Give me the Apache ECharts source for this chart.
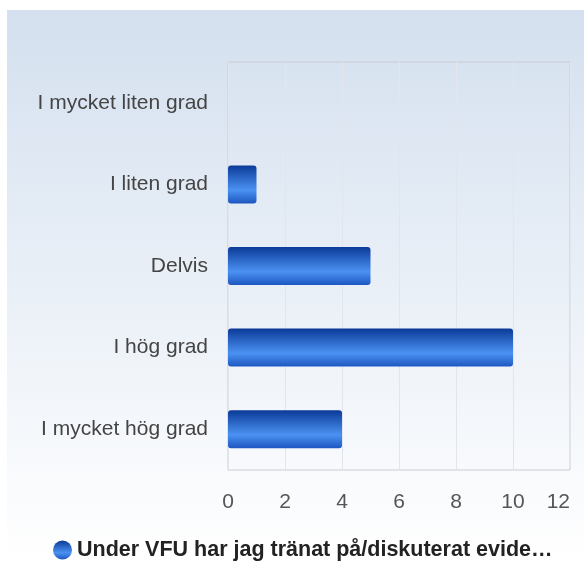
<!DOCTYPE html>
<html>
<head>
    <meta charset="UTF-8">
    <title>VFU bar chart</title>
    <script src="https://cdn.jsdelivr.net/npm/echarts@6/dist/echarts.min.js"></script>
</head>
<body style="margin: 0;overflow: hidden;background: #fff;">
<div id="main" style="width: 584px;height: 562px;"></div>
<script type="text/javascript">
    var categories = ['I mycket liten grad', 'I liten grad', 'Delvis', 'I hög grad', 'I mycket hög grad'];
    var values = [0, 1, 5, 10, 4];
    var seriesName = 'Under VFU har jag tränat på/diskuterat evide…';

    var barColor = new echarts.graphic.LinearGradient(0, 0, 0, 1, [
        {offset: 0, color: '#0b3a98'},
        {offset: 0.65, color: '#4b92f2'},
        {offset: 1, color: '#1d56c0'}
    ]);

    var chart = echarts.init(document.getElementById('main'));
    var option = {
        backgroundColor: '#fff',
        graphic: [{
            type: 'rect',
            left: 7,
            top: 10,
            z: -10,
            silent: true,
            shape: {width: 577, height: 552},
            style: {
                fill: new echarts.graphic.LinearGradient(0, 0, 0, 1, [
                    {offset: 0, color: '#d4e0ef'},
                    {offset: 1, color: '#ffffff'}
                ])
            }
        }],
        legend: {
            left: 53,
            top: 539,
            padding: 0,
            icon: 'circle',
            itemWidth: 19,
            itemHeight: 19,
            itemGap: 8,
            textStyle: {
                fontFamily: 'Liberation Sans, Arial',
                fontSize: 21.5,
                fontWeight: 'bold',
                color: '#222'
            },
            data: [seriesName]
        },
        grid: {
            left: 228,
            right: 14,
            top: 62,
            bottom: 92,
            containLabel: false,
            show: true,
            borderColor: '#c8ccd4',
            borderWidth: 1,
            backgroundColor: 'transparent'
        },
        xAxis: {
            type: 'value',
            min: 0,
            max: 12,
            interval: 2,
            axisLine: {show: false},
            axisTick: {show: false},
            splitLine: {lineStyle: {color: '#e2e6ec'}},
            axisLabel: {
                margin: 22,
                alignMaxLabel: 'right',
                fontFamily: 'Liberation Sans, Arial',
                fontSize: 21,
                color: '#555'
            }
        },
        yAxis: {
            type: 'category',
            inverse: true,
            data: categories,
            axisLine: {show: false},
            axisTick: {show: false},
            axisLabel: {
                margin: 20,
                fontFamily: 'Liberation Sans, Arial',
                fontSize: 21,
                color: '#444'
            }
        },
        series: [{
            name: seriesName,
            type: 'bar',
            data: values,
            barWidth: 38,
            itemStyle: {
                color: barColor,
                borderRadius: 3
            }
        }]
    };
    chart.setOption(option);
</script>
</body>
</html>
